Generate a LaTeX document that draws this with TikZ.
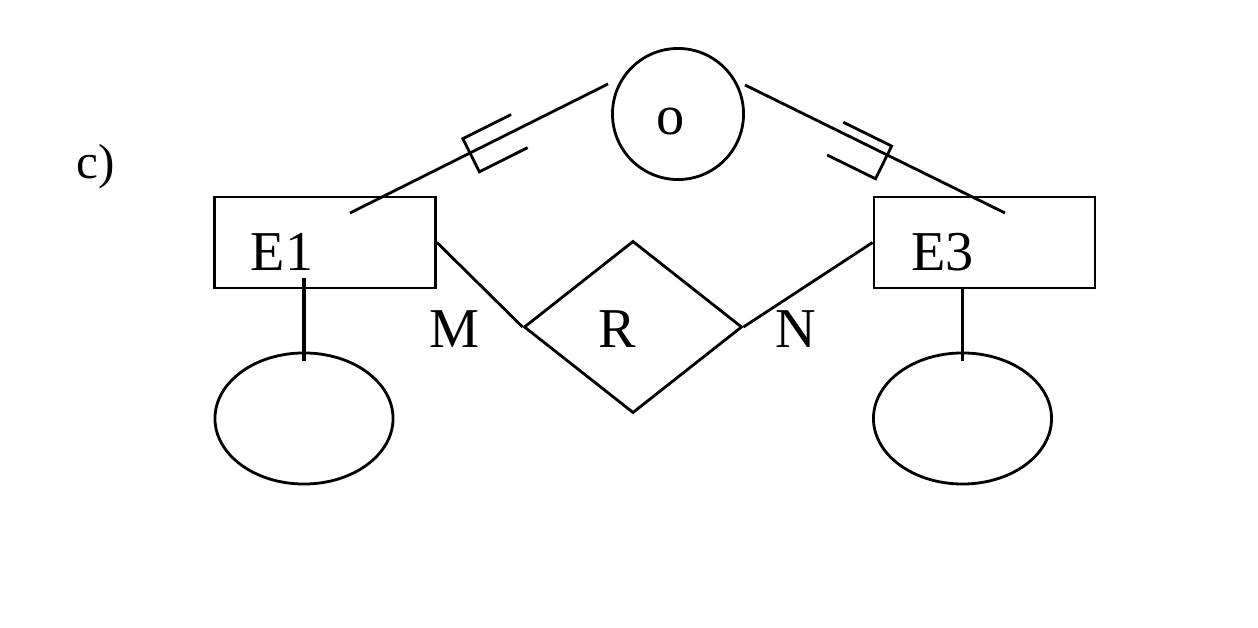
\documentclass[tikz,border=0pt]{standalone}
\usepackage{fontspec}
\setmainfont{Liberation Serif}
\usetikzlibrary{shapes.geometric, calc, positioning}

\tikzset{
	entity/.style={draw, rectangle, minimum width=2.21cm, minimum height=0.91cm, inner sep=0pt},
	attrib/.style={draw, ellipse, minimum width=1.78cm, minimum height=1.31cm, inner sep=0pt},
	relship/.style={draw, diamond, minimum width=2.18cm, minimum height=1.72cm, inner sep=0pt},
	catnode/.style={draw, circle, minimum size=1.31cm, inner sep=0pt},
	lbl/.style={inner sep=0pt, font=\fontsize{16}{19}\selectfont},
	keyline/.style={line width=1.4pt}
}

\begin{document}
\begin{tikzpicture}[x=0.01cm, y=-0.01cm, line width=0.8pt]
		\useasboundingbox (0,0) rectangle (1258,628);

		\node[entity] (E1) at (325,242.5) {};
		\node[entity] (E3) at (984.5,242.5) {};
		\node[catnode] (O) at (678,114) {};
		\node[relship] (R) at (633,327) {};
		\node[attrib] (A1) at (304,418.5) {};
		\node[attrib] (A3) at (962.5,418.5) {};

		\node[lbl, font=\fontsize{14}{17}\selectfont] (c) at (95.5,167) {c)};
		\node[lbl] (E1txt) at (282,252) {E1};
		\node[lbl] (E3txt) at (942.5,252) {E3};
		\node[lbl] (Otxt) at (671,122) {o};
		\node[lbl] (Rtxt) at (617.5,329) {R};
		\node[lbl] (M) at (455,329) {M};
		\node[lbl] (N) at (795.5,329) {N};

		\draw (E1.east) -- (R.west);
		\draw (R.east) -- (E3.west);

		\coordinate (k1) at (A1.north |- E1.south);
		\coordinate (k3) at (A3.north |- E3.south);
		\draw [keyline] ([yshift=-0.09cm]A1.north) -- ([yshift=0.11cm]k1);
		\draw ([yshift=-0.09cm]A3.north) -- (k3);

		\coordinate (s1) at (350,213);
		\coordinate (t1) at (608,84);
		\coordinate (s3) at (1005,213);
		\coordinate (t3) at (745,85);
		\draw (s1) -- (t1);
		\draw (s3) -- (t3);

		\begin{scope}[shift={($(s1)!0.465!(t1)$)}, rotate=26.6]
			\draw (54,-16) -- (0,-16) -- (0,21) -- (54,21);
		\end{scope}
		\begin{scope}[shift={($(s3)!0.453!(t3)$)}, rotate=153.8]
			\draw (54,10) -- (0,10) -- (0,-26.5) -- (54,-26.5);
		\end{scope}
	\end{tikzpicture}
\end{document}
